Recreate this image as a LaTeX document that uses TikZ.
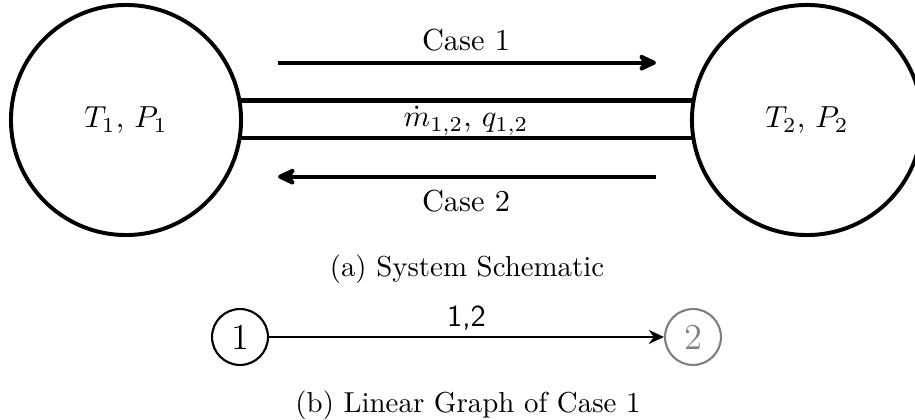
\documentclass[tikz,border=0pt]{standalone}
\usetikzlibrary{arrows.meta,calc}
\begin{document}
\begin{tikzpicture}[x=0.329pt,y=-0.329pt,
  big/.style={circle,draw,line width=1.3pt,minimum size=75.7pt,inner sep=0pt},
  pipe/.style={line width=1.35pt},
  flowarrow/.style={line width=1.35pt,-{Stealth[length=7.5pt,width=7pt,round]}},
  gnode/.style={circle,draw,line width=0.7pt,minimum size=18.4pt,inner sep=0pt,font=\large},
  gedge/.style={line width=0.7pt,-{Stealth[length=5pt,width=4.6pt]}},
  lbl/.style={anchor=base},
  captext/.style={anchor=base,font=\fontsize{9.5}{11.5}\selectfont}
]
\useasboundingbox (0,0) rectangle (915,420);
\node[big] (L) at (126,120) {$T_1$, $P_1$};
\node[big] (R) at (807,120) {$T_2$, $P_2$};
\draw[pipe] ($(L.center)+(113.4,-19.5)$) -- ($(R.center)+(-113.4,-19.5)$);
\draw[pipe] ($(L.center)+(113.4,18)$) -- ($(R.center)+(-113.4,18)$);
\coordinate (c1s) at (278,62.7);
\coordinate (c1e) at (656,62.7);
\coordinate (c2s) at (656,176.7);
\coordinate (c2e) at (278,176.7);
\draw[flowarrow] (c1s) -- (c1e);
\draw[flowarrow] (c2s) -- (c2e);
\node[lbl] (case1) at (466,51) {Case 1};
\node[lbl] (flow) at (466,127) {$\dot m_{1,2}$, $q_{1,2}$};
\node[lbl] (case2) at (466,212) {Case 2};
\node[captext] (capa) at (467,277) {(a) System Schematic};
\node[gnode] (n1) at (240,337) {1};
\node[gnode,gray] (n2) at (693,337) {2};
\draw[gedge] (n1) -- node[midway,anchor=base,yshift=3.6pt,font=\sffamily] (e12) {1,2} (n2);
\node[captext] (capb) at (468,413) {(b) Linear Graph of Case 1};
\end{tikzpicture}
\end{document}
